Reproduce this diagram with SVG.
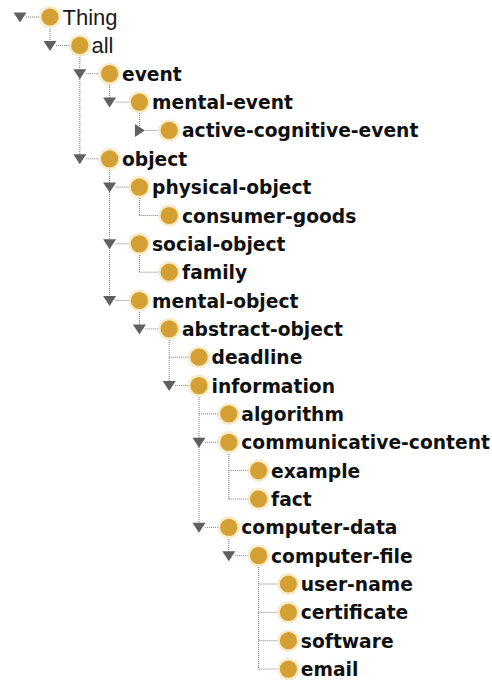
<svg xmlns="http://www.w3.org/2000/svg" xmlns:xlink="http://www.w3.org/1999/xlink" width="492" height="686" viewBox="0 0 492 686">
<style>
.lbl{font-family:"DejaVu Sans","Liberation Sans",sans-serif;font-weight:bold;font-size:18.7px;fill:#111111}
.reg{font-family:"Liberation Sans","DejaVu Sans",sans-serif;font-size:22px;fill:#1a1a1a}
.dot{stroke:#7a7a7a;stroke-width:1;stroke-dasharray:1 1;fill:none}
.tri{fill:#606060}
</style>
<defs>
<g id="bullet"><circle r="11" fill="#f7ebc8"/><circle r="8.6" fill="#d4a034"/></g>
<path id="tdown" d="M-6.5,-4.5 L6.5,-4.5 L0,5.5 Z"/>
<path id="tright" d="M-4.5,-6.5 L5.5,0 L-4.5,6.5 Z"/>
</defs>
<rect width="492" height="686" fill="#ffffff"/>
<g id="connectors" class="dot">
<path d="M26,17H40 M56,45.4H69.8 M85.8,73.7H99.6 M115.6,102.1H129.4 M145.4,130.4H159.2 M85.8,158.8H99.6 M115.6,187.1H129.4 M139.4,215.5H159.2 M115.6,243.8H129.4 M139.4,272.2H159.2 M115.6,300.5H129.4 M145.4,328.9H159.2 M169.2,357.2H189 M175.2,385.6H189 M199,413.9H218.8 M205,442.3H218.8 M228.8,470.6H248.6 M228.8,499H248.6 M205,527.3H218.8 M234.8,555.7H248.6 M258.6,584H278.4 M258.6,612.4H278.4 M258.6,640.7H278.4 M258.6,669.1H278.4"/>
<path d="M50,27V40 M79.8,55V158.8 M109.6,83V102 M139.4,111V130.4 M109.6,168V300.5 M139.4,196V215.5 M139.4,253V272.2 M139.4,310V328.9 M169.2,338V385.6 M199,395V527.3 M228.8,452V499 M228.8,537V555.7 M258.6,565V669.1"/>
</g>
<g id="n-thing"><use href="#tdown" class="tri" x="20" y="17"/><use href="#bullet" x="50" y="17"/><text class="reg" x="62.5" y="24.5">Thing</text></g>
<g id="n-all"><use href="#tdown" class="tri" x="50" y="45.4"/><use href="#bullet" x="79.8" y="45.4"/><text class="reg" x="91.5" y="52.9">all</text></g>
<g id="n-event"><use href="#tdown" class="tri" x="79.8" y="73.7"/><use href="#bullet" x="109.6" y="73.7"/><text class="lbl" x="122" y="80.7">event</text></g>
<g id="n-mental-event"><use href="#tdown" class="tri" x="109.6" y="102.1"/><use href="#bullet" x="139.4" y="102.1"/><text class="lbl" x="152" y="109.1">mental-event</text></g>
<g id="n-active-cognitive-event"><use href="#tright" class="tri" x="139.4" y="130.4"/><use href="#bullet" x="169.2" y="130.4"/><text class="lbl" x="182" y="137.4">active-cognitive-event</text></g>
<g id="n-object"><use href="#tdown" class="tri" x="79.8" y="158.8"/><use href="#bullet" x="109.6" y="158.8"/><text class="lbl" x="122" y="165.8">object</text></g>
<g id="n-physical-object"><use href="#tdown" class="tri" x="109.6" y="187.1"/><use href="#bullet" x="139.4" y="187.1"/><text class="lbl" x="152" y="194.1">physical-object</text></g>
<g id="n-consumer-goods"><use href="#bullet" x="169.2" y="215.5"/><text class="lbl" x="182" y="222.5">consumer-goods</text></g>
<g id="n-social-object"><use href="#tdown" class="tri" x="109.6" y="243.8"/><use href="#bullet" x="139.4" y="243.8"/><text class="lbl" x="152" y="250.8">social-object</text></g>
<g id="n-family"><use href="#bullet" x="169.2" y="272.2"/><text class="lbl" x="182" y="279.2">family</text></g>
<g id="n-mental-object"><use href="#tdown" class="tri" x="109.6" y="300.5"/><use href="#bullet" x="139.4" y="300.5"/><text class="lbl" x="152" y="307.5">mental-object</text></g>
<g id="n-abstract-object"><use href="#tdown" class="tri" x="139.4" y="328.9"/><use href="#bullet" x="169.2" y="328.9"/><text class="lbl" x="182" y="335.9">abstract-object</text></g>
<g id="n-deadline"><use href="#bullet" x="199" y="357.2"/><text class="lbl" x="211.5" y="364.2">deadline</text></g>
<g id="n-information"><use href="#tdown" class="tri" x="169.2" y="385.6"/><use href="#bullet" x="199" y="385.6"/><text class="lbl" x="211.5" y="392.6">information</text></g>
<g id="n-algorithm"><use href="#bullet" x="228.8" y="413.9"/><text class="lbl" x="241.3" y="420.9">algorithm</text></g>
<g id="n-communicative-content"><use href="#tdown" class="tri" x="199" y="442.3"/><use href="#bullet" x="228.8" y="442.3"/><text class="lbl" x="241.3" y="449.3">communicative-content</text></g>
<g id="n-example"><use href="#bullet" x="258.6" y="470.6"/><text class="lbl" x="271" y="477.6">example</text></g>
<g id="n-fact"><use href="#bullet" x="258.6" y="499"/><text class="lbl" x="271" y="506">fact</text></g>
<g id="n-computer-data"><use href="#tdown" class="tri" x="199" y="527.3"/><use href="#bullet" x="228.8" y="527.3"/><text class="lbl" x="241.3" y="534.3">computer-data</text></g>
<g id="n-computer-file"><use href="#tdown" class="tri" x="228.8" y="555.7"/><use href="#bullet" x="258.6" y="555.7"/><text class="lbl" x="271" y="562.7">computer-file</text></g>
<g id="n-user-name"><use href="#bullet" x="288.4" y="584"/><text class="lbl" x="300.8" y="591">user-name</text></g>
<g id="n-certificate"><use href="#bullet" x="288.4" y="612.4"/><text class="lbl" x="300.8" y="619.4">certificate</text></g>
<g id="n-software"><use href="#bullet" x="288.4" y="640.7"/><text class="lbl" x="300.8" y="647.7">software</text></g>
<g id="n-email"><use href="#bullet" x="288.4" y="669.1"/><text class="lbl" x="300.8" y="676.1">email</text></g>
</svg>
